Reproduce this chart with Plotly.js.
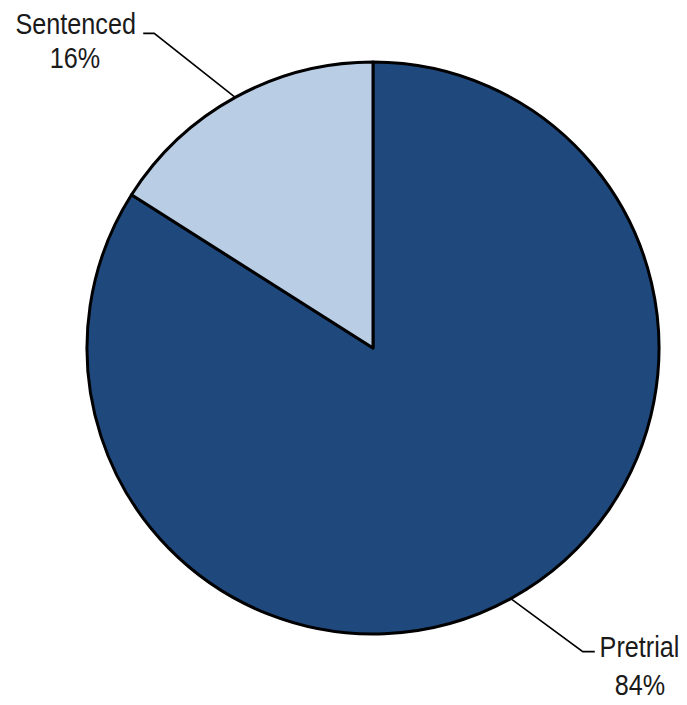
<!DOCTYPE html>
<html><head><meta charset="utf-8">
<script src="https://cdn.plot.ly/plotly-3.0.1.min.js"></script>
<style>html,body{margin:0;padding:0;background:#fff}#chart{width:687px;height:705px}</style>
</head><body><div id="chart"></div>
<script>
var categories = ["Pretrial", "Sentenced"];
var shares = [84, 16];
var sliceColors = ["#1F497D", "#B9CDE5"];

var W = 687, H = 705;
var cx = 373, cy = 348, R = 286;
// leader-line elbow offsets (px), tail length, text centre offset from tail end, line y offsets
var leaderStyle = [
  {dx: 72, dy: 53, tail: 12, textDx: 45, nameDy: -5, pctDy: 33},
  {dx: -81, dy: -64, tail: -11, textDx: -68, nameDy: -10, pctDy: 24}
];
var FONT = "'Liberation Sans', Arial, sans-serif";
var FSIZE = 30, SQUEEZE = 0.84;

var total = shares.reduce(function(a,b){return a+b;},0);
var shapes = [], annotations = [];
var cum = 0;
for (var i = 0; i < shares.length; i++) {
  var mid = (cum + shares[i] / 2) / total * 2 * Math.PI; // clockwise from top
  cum += shares[i];
  var sx = cx + R * Math.sin(mid), sy = cy - R * Math.cos(mid);
  var st = leaderStyle[i];
  var ex = sx + st.dx, ey = sy + st.dy;
  var tx = ex + st.tail;
  shapes.push({type: "path", xref: "paper", yref: "paper",
    path: "M" + (sx / W) + "," + (1 - sy / H) + " L" + (ex / W) + "," + (1 - ey / H) + " L" + (tx / W) + "," + (1 - ey / H),
    line: {color: "#000", width: 1.6}});
  var tcx = (tx + st.textDx) / W;
  annotations.push({xref: "paper", yref: "paper", x: tcx, y: 1 - (ey + st.nameDy) / H,
    xanchor: "center", yanchor: "middle", showarrow: false, text: categories[i],
    font: {family: FONT, size: FSIZE, color: "#1a1a1a"}});
  annotations.push({xref: "paper", yref: "paper", x: tcx, y: 1 - (ey + st.pctDy) / H,
    xanchor: "center", yanchor: "middle", showarrow: false,
    text: Math.round(shares[i] / total * 100) + "%",
    font: {family: FONT, size: FSIZE, color: "#1a1a1a"}});
}

var data = [{
  type: "pie", labels: categories, values: shares, sort: false, direction: "clockwise",
  rotation: 0, textinfo: "none", hoverinfo: "label+percent",
  marker: {colors: sliceColors, line: {color: "#000", width: 3}},
  domain: {x: [(cx - R) / W, (cx + R) / W], y: [1 - (cy + R) / H, 1 - (cy - R) / H]}
}];
var layout = {width: W, height: H, margin: {l: 0, r: 0, t: 0, b: 0}, showlegend: false,
  paper_bgcolor: "#fff", shapes: shapes, annotations: annotations};
Plotly.newPlot("chart", data, layout, {displayModeBar: false, staticPlot: true}).then(function(gd){
  // narrow the label glyphs horizontally (condensed look), around each text's centre
  gd.querySelectorAll("text.annotation-text").forEach(function(t){
    var b = t.getBBox();
    var c = b.x + b.width / 2;
    t.setAttribute("transform", "translate(" + c + ",0) scale(" + SQUEEZE + ",1) translate(" + (-c) + ",0)");
  });
});
</script></body></html>
